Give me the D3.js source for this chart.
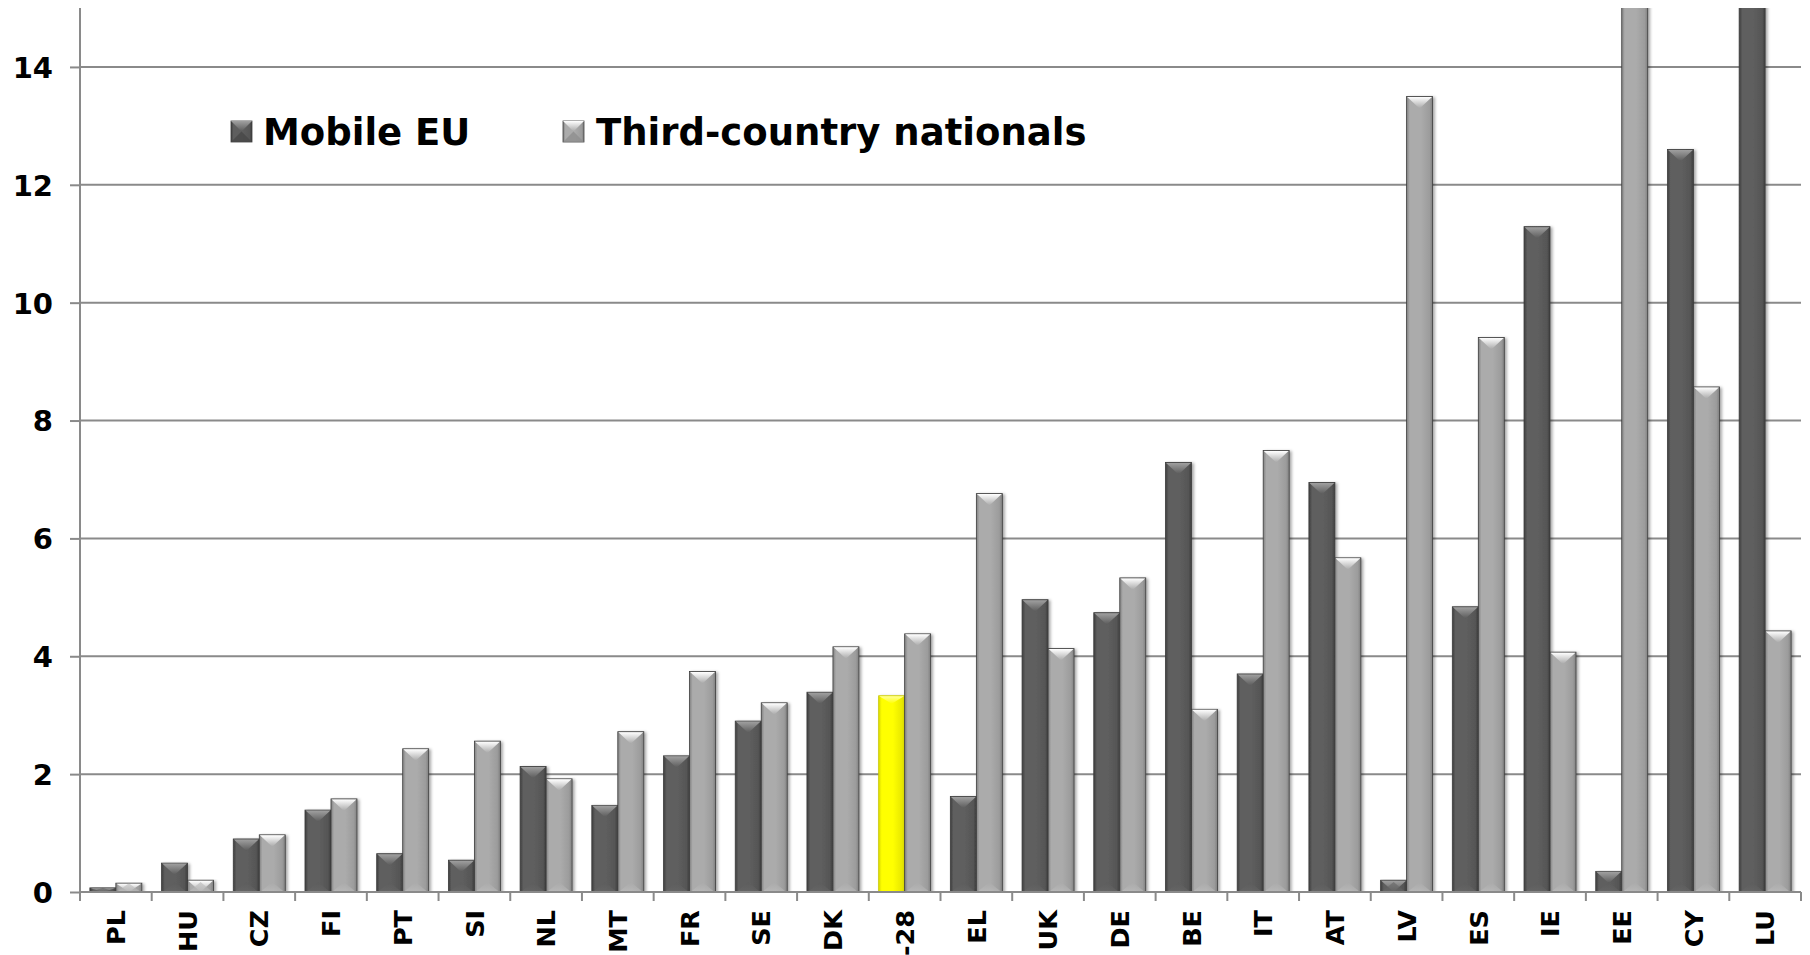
<!DOCTYPE html>
<html>
<head>
<meta charset="utf-8">
<script src="https://cdn.jsdelivr.net/npm/d3@7/dist/d3.min.js"></script>
<style>
  html, body { margin: 0; padding: 0; background: #ffffff; }
  svg { display: block; font-family: "DejaVu Sans", Verdana, sans-serif; font-weight: bold; }
</style>
</head>
<body>
<svg id="chart" width="1810" height="955"></svg>
<script>
// ---- data ----
const categories = ["PL","HU","CZ","FI","PT","SI","NL","MT","FR","SE","DK","EU-28","EL","UK","DE","BE","IT","AT","LV","ES","IE","EE","CY","LU"];
const mobileEU   = [0.07,0.49,0.9,1.39,0.65,0.54,2.13,1.47,2.31,2.9,3.39,3.33,1.62,4.96,4.74,7.29,3.7,6.95,0.2,4.84,11.29,0.35,12.6,37.0];
const thirdCountry = [0.15,0.2,0.97,1.58,2.43,2.56,1.92,2.72,3.74,3.21,4.16,4.38,6.76,4.13,5.33,3.1,7.49,5.67,13.5,9.41,4.07,15.4,8.57,4.43];
const seriesNames = ["Mobile EU","Third-country nationals"];
const yTicks = [0,2,4,6,8,10,12,14];
const highlight = "EU-28";

(function () {
// ---- layout ----
const svg = d3.select("#chart");
const pL = 80, pR = 1801, pT = 8, pB = 892;

const x0 = d3.scaleBand().domain(categories).range([pL, pR]).paddingInner(0.275).paddingOuter(0.1375);
const x1 = d3.scaleBand().domain(seriesNames).range([0, x0.bandwidth()]).padding(0);
const y = d3.scaleLinear().domain([0, 15]).range([pB, pT]);

// ---- defs ----
const defs = svg.append("defs");
function hGrad(id, edge, mid) {
  const g = defs.append("linearGradient").attr("id", id).attr("x1", "0").attr("x2", "1").attr("y1", "0").attr("y2", "0");
  g.append("stop").attr("offset", "0").attr("stop-color", edge);
  g.append("stop").attr("offset", "0.12").attr("stop-color", mid);
  g.append("stop").attr("offset", "0.55").attr("stop-color", mid);
  g.append("stop").attr("offset", "0.88").attr("stop-color", d3.color(mid).darker(0.25));
  g.append("stop").attr("offset", "1").attr("stop-color", edge);
}
function vGrad(id, c1, c2) {
  const g = defs.append("linearGradient").attr("id", id).attr("x1", "0").attr("x2", "0").attr("y1", "0").attr("y2", "1");
  g.append("stop").attr("offset", "0").attr("stop-color", c1);
  g.append("stop").attr("offset", "1").attr("stop-color", c2);
}
hGrad("bodyDark", "#3e3e3e", "#5e5e5e");
hGrad("bodyLight", "#808080", "#ababab");
hGrad("bodyYellow", "#d9d900", "#ffff00");
vGrad("capDark", "#a0a0a0", "#5a5a5a");
vGrad("capLight", "#ffffff", "#a8a8a8");
vGrad("capYellow", "#ffff9a", "#ffff00");
vGrad("botLight", "#a8a8a8", "#c4c4c4");
vGrad("botDark", "#5a5a5a", "#6c6c6c");

const shadow = defs.append("filter").attr("id", "shadow").attr("x", "-30%").attr("y", "-5%").attr("width", "160%").attr("height", "110%");
shadow.append("feDropShadow").attr("dx", 2).attr("dy", 1).attr("stdDeviation", 1.8).attr("flood-color", "#000").attr("flood-opacity", 0.35);

defs.append("clipPath").attr("id", "plotClip").append("rect")
  .attr("x", pL - 5).attr("y", pT).attr("width", pR - pL + 10).attr("height", pB - pT);

// ---- gridlines ----
svg.append("g").selectAll("line").data(yTicks.filter(d => d > 0)).join("line")
  .attr("x1", pL).attr("x2", pR).attr("y1", d => y(d)).attr("y2", d => y(d))
  .attr("stroke", "#8a8a8a").attr("stroke-width", 2);

// ---- y axis ----
const yAxis = svg.append("g").attr("transform", `translate(${pL},0)`)
  .call(d3.axisLeft(y).tickValues(yTicks).tickSize(10).tickPadding(17).tickFormat(d3.format("d")));
yAxis.select(".domain").attr("d", `M0,${pT}V${pB}`).attr("stroke", "#8a8a8a").attr("stroke-width", 2);
yAxis.selectAll(".tick line").attr("stroke", "#8a8a8a").attr("stroke-width", 2);
yAxis.selectAll(".tick text").attr("fill", "#000").style("font-size", "29px").style("font-weight", "bold")
  .style("font-family", "'DejaVu Sans', Verdana, sans-serif").attr("dy", "0.36em");

// ---- bars ----
const rows = categories.map((c, i) => ({ cat: c, vals: [mobileEU[i], thirdCountry[i]] }));
const barsG = svg.append("g").attr("clip-path", "url(#plotClip)");
const groups = barsG.selectAll("g.grp").data(rows).join("g").attr("class", "grp")
  .attr("transform", d => `translate(${x0(d.cat)},0)`);

groups.each(function(d) {
  const g = d3.select(this);
  d.vals.forEach((v, si) => {
    const name = seriesNames[si];
    const isY = d.cat === highlight && si === 0;
    const kind = isY ? "Yellow" : (si === 0 ? "Dark" : "Light");
    const bx = x1(name), bw = x1.bandwidth();
    const yt = y(v), h = y(0) - yt;
    const bar = g.append("g");
    bar.append("rect").attr("x", bx).attr("y", yt).attr("width", bw).attr("height", h)
      .attr("fill", `url(#body${kind})`)
      .attr("stroke", isY ? "#c9c900" : "#3c3c3c").attr("stroke-width", 0.8)
      .attr("filter", "url(#shadow)");
    const dep = Math.min(isY ? 8 : 12, h);
    bar.append("path")
      .attr("d", `M${bx + 0.6},${yt + 0.5}L${bx + bw - 0.6},${yt + 0.5}L${bx + bw / 2},${yt + dep}Z`)
      .attr("fill", `url(#cap${kind})`);
    if (!isY) {
      const bd = Math.min(10, h);
      bar.append("path")
        .attr("d", `M${bx + 1},${y(0)}L${bx + bw - 1},${y(0)}L${bx + bw / 2},${y(0) - bd}Z`)
        .attr("fill", si === 0 ? "url(#botDark)" : "url(#botLight)").attr("opacity", 0.5);
    }
  });
});

// ---- x axis ----
svg.append("line").attr("x1", pL).attr("x2", pR).attr("y1", pB).attr("y2", pB)
  .attr("stroke", "#8a8a8a").attr("stroke-width", 2);
const step = x0.step();
const bounds = d3.range(categories.length + 1).map(i => pL + i * step);
svg.append("g").selectAll("line").data(bounds).join("line")
  .attr("x1", d => d).attr("x2", d => d).attr("y1", pB).attr("y2", pB + 9)
  .attr("stroke", "#8a8a8a").attr("stroke-width", 2);

const xAxis = svg.append("g").attr("transform", `translate(0,${pB})`)
  .call(d3.axisBottom(x0).tickSize(0).tickPadding(0));
xAxis.select(".domain").remove();
xAxis.selectAll(".tick text")
  .attr("transform", "rotate(-90)")
  .attr("x", -18).attr("y", 0).attr("dy", "0.36em")
  .attr("text-anchor", "end")
  .attr("fill", "#000")
  .style("font-size", "25.5px").style("font-weight", "bold")
  .style("font-family", "'DejaVu Sans', Verdana, sans-serif");

// ---- legend ----
const legend = svg.append("g");
const legendItems = [
  { name: seriesNames[0], kind: "Dark", mx: 231, tx: 263 },
  { name: seriesNames[1], kind: "Light", mx: 563, tx: 596 }
];
legendItems.forEach(it => {
  const s = 21, my = 121;
  legend.append("rect").attr("x", it.mx).attr("y", my).attr("width", s).attr("height", s)
    .attr("fill", `url(#body${it.kind})`).attr("stroke", "#3c3c3c").attr("stroke-width", 0.8);
  legend.append("path").attr("d", `M${it.mx},${my}L${it.mx + s},${my}L${it.mx + s / 2},${my + s / 2}Z`)
    .attr("fill", `url(#cap${it.kind})`);
  legend.append("path").attr("d", `M${it.mx},${my + s}L${it.mx + s},${my + s}L${it.mx + s / 2},${my + s / 2}Z`)
    .attr("fill", it.kind === "Dark" ? "#474747" : "#8e8e8e").attr("opacity", 0.8);
  legend.append("text").attr("x", it.tx).attr("y", 145).text(it.name)
    .style("font-size", "37px").style("font-weight", "bold").attr("fill", "#000");
});
})();
</script>
</body>
</html>
